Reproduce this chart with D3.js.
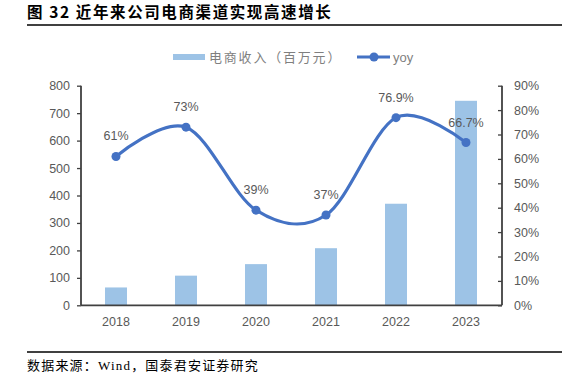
<!DOCTYPE html>
<html><head><meta charset="utf-8">
<script src="https://cdn.jsdelivr.net/npm/d3@7"></script>
<style>
html,body{margin:0;padding:0;background:#fff;}
svg{display:block;}
</style></head>
<body>
<svg id="chart" width="566" height="382"></svg>
<script>
const categories = ["2018","2019","2020","2021","2022","2023"];
const revenue = [65, 108, 150, 208, 370, 745];
const yoy = [61, 73, 39, 37, 76.9, 66.7];
const yoyLabels = ["61%","73%","39%","37%","76.9%","66.7%"];
const leftTicks = [0,100,200,300,400,500,600,700,800];
const rightTicks = [0,10,20,30,40,50,60,70,80,90];
const titleText = "图 32 近年来公司电商渠道实现高速增长";
const sourceText = "数据来源：Wind，国泰君安证券研究";
const legendNames = ["电商收入（百万元）","yoy"];

const svg = d3.select("#chart");
const L = 81, R = 502, T = 85.7, B = 305.3;
const font = "'Liberation Sans', Arial, 'Noto Sans CJK SC', sans-serif";
const cjk = "'Noto Sans CJK SC', sans-serif";

// Title
svg.append("text").attr("x", 27).attr("y", 18).text(titleText)
  .attr("font-family", cjk).attr("font-weight", "bold").attr("font-size", 15.5)
  .attr("letter-spacing", 1.6).attr("fill", "#000");
svg.append("line").attr("x1", 27).attr("x2", 562).attr("y1", 25).attr("y2", 25)
  .attr("stroke", "#000").attr("stroke-width", 1.6);

// Scales
const x = d3.scaleBand().domain(categories).range([L, R - 1]).paddingInner(0.686).paddingOuter(0.343);
const yL = d3.scaleLinear().domain([0, 800]).range([B, T]);
const yR = d3.scaleLinear().domain([0, 90]).range([B, T]);

// Bars
svg.append("g").selectAll("rect").data(revenue).join("rect")
  .attr("x", (d, i) => x(categories[i]))
  .attr("width", x.bandwidth())
  .attr("y", d => yL(d))
  .attr("height", d => B - yL(d))
  .attr("fill", "#9DC3E6");

// Axes
const axisColor = "#404040";
const gL = svg.append("g").attr("transform", `translate(${L},0)`)
  .call(d3.axisLeft(yL).tickValues(leftTicks).tickSize(4).tickPadding(7).tickFormat(d3.format("d")));
const gR = svg.append("g").attr("transform", `translate(${R},0)`)
  .call(d3.axisRight(yR).tickValues(rightTicks).tickSize(-4).tickPadding(12).tickFormat(d => d + "%"));
const gB = svg.append("g").attr("transform", `translate(0,${B})`)
  .call(d3.axisBottom(x).tickSize(0).tickPadding(12));
[gL, gR, gB].forEach(g => {
  g.selectAll(".domain").attr("stroke", axisColor).attr("stroke-width", 1.8);
  g.selectAll(".tick line").attr("stroke", axisColor).attr("stroke-width", 1.3);
  g.selectAll("text").attr("font-family", font).attr("font-size", 12.5).attr("fill", "#595959");
});
gB.select(".domain").attr("d", `M${L},0H${R}`);
gL.select(".domain").attr("d", `M0,${B}V${T}`);
gR.select(".domain").attr("d", `M0,${B}V${T}`);

// Line
const cx = i => x(categories[i]) + x.bandwidth() / 2;
const line = d3.line().x((d, i) => cx(i)).y(d => yR(d)).curve(d3.curveCardinal.tension(0));
svg.append("path").datum(yoy).attr("d", line)
  .attr("fill", "none").attr("stroke", "#4472C4").attr("stroke-width", 3.2);
svg.append("g").selectAll("circle").data(yoy).join("circle")
  .attr("cx", (d, i) => cx(i)).attr("cy", d => yR(d)).attr("r", 4.5)
  .attr("fill", "#4472C4");
svg.append("g").selectAll("text").data(yoy).join("text")
  .attr("x", (d, i) => cx(i)).attr("y", d => yR(d) - 16)
  .attr("text-anchor", "middle").attr("font-family", font).attr("font-size", 12.5)
  .attr("fill", "#595959").text((d, i) => yoyLabels[i]);

// Legend
svg.append("rect").attr("x", 173).attr("y", 54).attr("width", 32).attr("height", 6).attr("fill", "#9DC3E6");
svg.append("text").attr("x", 209).attr("y", 61.5).text(legendNames[0])
  .attr("font-family", cjk).attr("font-size", 13).attr("letter-spacing", 1.8).attr("fill", "#7f7f7f");
svg.append("line").attr("x1", 357).attr("x2", 390).attr("y1", 57).attr("y2", 57)
  .attr("stroke", "#4472C4").attr("stroke-width", 3.2);
svg.append("circle").attr("cx", 374).attr("cy", 57).attr("r", 4.5).attr("fill", "#4472C4");
svg.append("text").attr("x", 393).attr("y", 61.5).text(legendNames[1])
  .attr("font-family", font).attr("font-size", 13).attr("fill", "#7f7f7f");

// Source
svg.append("line").attr("x1", 27).attr("x2", 562).attr("y1", 352).attr("y2", 352)
  .attr("stroke", "#000").attr("stroke-width", 1.3);
svg.append("text").attr("x", 27).attr("y", 370).text(sourceText)
  .attr("font-family", "'Liberation Serif', 'Noto Sans CJK SC', serif").attr("font-size", 13)
  .attr("letter-spacing", 1.2).attr("fill", "#000");
</script>
</body></html>
